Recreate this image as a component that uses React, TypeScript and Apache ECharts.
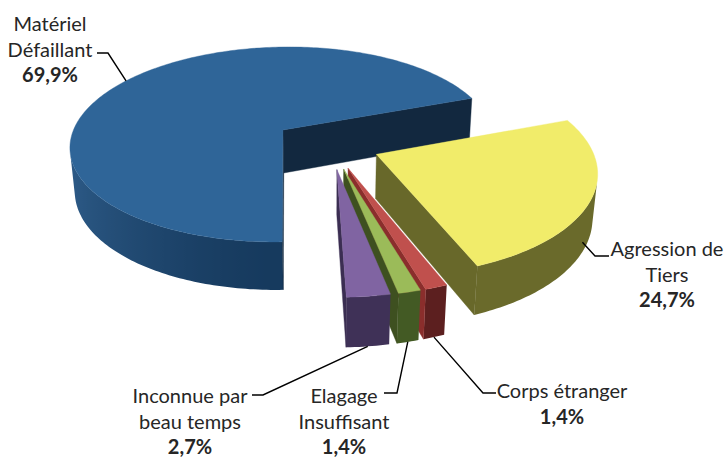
import React, { useEffect, useRef } from "react";
import * as echarts from "echarts";

// Share of incidents by cause (%)
const categories = [
  "Matériel Défaillant",
  "Agression de Tiers",
  "Corps étranger",
  "Elagage Insuffisant",
  "Inconnue par beau temps",
];
const shares = [69.9, 24.7, 1.4, 1.4, 2.7];
const labelLines = [
  ["Matériel", "Défaillant"],
  ["Agression de", "Tiers"],
  ["Corps étranger"],
  ["Elagage", "Insuffisant"],
  ["Inconnue par", "beau temps"],
];

// Styling per slice
const topColors = ["#2F6598", "#F1EC6A", "#C0504D", "#9BBB59", "#8064A2"];
const wallLight = ["#2E5C89", "#74742F", "#6A2523", "#4C6229", "#47385F"];
const wallDark = ["#163A5E", "#6A6A2B", "#5C1F1F", "#435A24", "#3F3157"];
const edgeColors = ["#12283F", "#68682A", "#8A2E2C", "#3E5020", "#3B2E52"];
const explodeBy = [0.275, 0.23, 0.24, 0.24, 0.24];

// Label placement: block centre x, first line centre y, leader elbow and end,
// leader anchor on the slice as [fraction of sweep, fraction of depth]
const labelLayout = [
  { x: 50, y: 23, elbow: [108, 53], end: [97, 53], anchor: [0.5, 0] },
  { x: 667, y: 248, elbow: [595, 256], end: [609, 256], anchor: [0.55, 0.75] },
  { x: 562, y: 390, elbow: [483, 393], end: [496, 393], anchor: [0.5, 1] },
  { x: 344, y: 395, elbow: [397, 393], end: [384, 393], anchor: [0.5, 1] },
  { x: 190, y: 395, elbow: [263, 395], end: [252, 395], anchor: [0.5, 1] },
];
const LINE_H = 25.5;
const FONT = "Lato";
const FONT_SIZE = 20;

// Perspective view of the tilted disc (lengths in pie radii)
const VIEW = {
  cx: 330.7,
  cy: 144.9,
  scale: 214.3,
  tiltDeg: 27.76,
  dist: 5.815,
  depth: 0.235,
  startDeg: 178.2,
};

const RAD = Math.PI / 180;
const sinT = Math.sin(VIEW.tiltDeg * RAD);
const cosT = Math.cos(VIEW.tiltDeg * RAD);
const camera = [0, VIEW.dist * cosT, VIEW.dist * sinT];

function project(X: number, Y: number, Z: number): number[] {
  const den = 1 - (cosT / VIEW.dist) * Y - (sinT / VIEW.dist) * Z;
  return [
    VIEW.cx + (VIEW.scale * X) / den,
    VIEW.cy + (VIEW.scale * (sinT * Y - cosT * Z)) / den,
  ];
}

function facesCamera(n: number[], p: number[]): boolean {
  return (
    n[0] * (camera[0] - p[0]) + n[1] * (camera[1] - p[1]) + n[2] * (camera[2] - p[2]) > 0
  );
}

function hexToRgb(h: string): number[] {
  const v = parseInt(h.slice(1), 16);
  return [(v >> 16) & 255, (v >> 8) & 255, v & 255];
}
function mix(a: string, b: string, t: number): string {
  const c1 = hexToRgb(a);
  const c2 = hexToRgb(b);
  const c = c1.map((x, k) => Math.round(x + (c2[k] - x) * t));
  return `rgb(${c[0]},${c[1]},${c[2]})`;
}

const total = shares.reduce((s, v) => s + v, 0);
const startShares: number[] = [];
shares.reduce((acc, v) => {
  startShares.push(acc);
  return acc + v;
}, 0);

// Paint far slices first
const midAngles = shares.map(
  (v, i) => (VIEW.startDeg + ((startShares[i] + v / 2) / total) * 360) * RAD
);
const depthOrder = shares
  .map((_, i) => ({ i, y: -explodeBy[i] * Math.cos(midAngles[i]) }))
  .sort((a, b) => a.y - b.y)
  .map((d) => d.i);
const rank: number[] = [];
depthOrder.forEach((idx, r) => (rank[idx] = r));

function formatShare(v: number): string {
  return v.toFixed(1).replace(".", ",") + "%";
}

function renderSlice(params: any, api: any) {
  const i = params.dataIndex;
  const value = api.value(0) as number;
  const a0 = (VIEW.startDeg + (startShares[i] / total) * 360) * RAD;
  const a1 = a0 + (value / total) * 360 * RAD;
  const m = (a0 + a1) / 2;
  const ox = explodeBy[i] * Math.sin(m);
  const oy = -explodeBy[i] * Math.cos(m);
  const H = VIEW.depth;
  const P3 = (t: number, r: number, z: number) => [
    ox + r * Math.sin(t),
    oy - r * Math.cos(t),
    z,
  ];
  const pr = (p: number[]) => project(p[0], p[1], p[2]);
  const base = rank[i] * 1000;
  const children: any[] = [];
  const n = Math.max(4, Math.ceil((a1 - a0) / RAD));

  // Curved outer wall: merge the camera-facing segments into runs
  const runs: number[][] = [];
  let run: number[] | null = null;
  for (let s = 0; s < n; s++) {
    const tm = a0 + ((a1 - a0) * (s + 0.5)) / n;
    const vis = facesCamera([Math.sin(tm), -Math.cos(tm), 0], P3(tm, 1, -H / 2));
    if (vis) {
      if (!run) {
        run = [s, s];
        runs.push(run);
      } else run[1] = s;
    } else run = null;
  }
  runs.forEach(([s0, s1]) => {
    const top: number[][] = [];
    const bottom: number[][] = [];
    const samples: { x: number; c: string }[] = [];
    for (let s = s0; s <= s1 + 1; s++) {
      const t = a0 + ((a1 - a0) * s) / n;
      const pt = pr(P3(t, 1, 0));
      top.push(pt);
      bottom.push(pr(P3(t, 1, -H)));
      const shade = Math.pow(Math.max(0, -Math.sin(t)), 1.5);
      samples.push({ x: pt[0], c: mix(wallDark[i], wallLight[i], shade) });
    }
    samples.sort((p, q) => p.x - q.x);
    const xmin = samples[0].x;
    const xmax = samples[samples.length - 1].x;
    const span = Math.max(1e-6, xmax - xmin);
    const stops = samples.map((p) => ({ offset: (p.x - xmin) / span, color: p.c }));
    const fill = new echarts.graphic.LinearGradient(xmin, 0, xmax, 0, stops, true);
    children.push({
      type: "polygon",
      z2: base + 1,
      shape: { points: top.concat(bottom.reverse()) },
      style: { fill },
    });
  });

  // Radial walls at both cut edges
  const radial = (t: number, sign: number) => {
    const normal = [sign * Math.cos(t), sign * Math.sin(t), 0];
    if (!facesCamera(normal, P3(t, 0.5, -H / 2))) return;
    children.push({
      type: "polygon",
      z2: base + 2,
      shape: {
        points: [pr(P3(t, 0, 0)), pr(P3(t, 1, 0)), pr(P3(t, 1, -H)), pr(P3(t, 0, -H))],
      },
      style: { fill: edgeColors[i], stroke: edgeColors[i], lineWidth: 0.4 },
    });
  };
  radial(a0, -1);
  radial(a1, 1);

  // Top face
  const topPts = [pr(P3(a0, 0, 0))];
  for (let s = 0; s <= n; s++) topPts.push(pr(P3(a0 + ((a1 - a0) * s) / n, 1, 0)));
  children.push({
    type: "polygon",
    z2: base + 500,
    shape: { points: topPts },
    style: { fill: topColors[i], stroke: topColors[i], lineWidth: 0.4 },
  });

  // Label with leader line
  const lay = labelLayout[i];
  const anchor = pr(P3(a0 + (a1 - a0) * lay.anchor[0], 1, -H * lay.anchor[1]));
  children.push({
    type: "polyline",
    z2: 100000,
    shape: { points: [anchor, lay.elbow, lay.end] },
    style: { stroke: "#000000", lineWidth: 1.4, fill: "none" },
  });
  const lines = [...labelLines[i], formatShare(value)];
  lines.forEach((txt, j) => {
    const bold = j === lines.length - 1;
    children.push({
      type: "text",
      z2: 100001,
      x: lay.x,
      y: lay.y + j * LINE_H,
      style: {
        text: txt,
        fill: "#262626",
        fontSize: FONT_SIZE,
        fontFamily: FONT,
        fontWeight: bold ? "bold" : "normal",
        textAlign: "center",
        textVerticalAlign: "middle",
        align: "center",
        verticalAlign: "middle",
      },
    });
  });

  return { type: "group", children };
}

export default function App() {
  const ref = useRef<HTMLDivElement>(null);
  useEffect(() => {
    if (!ref.current) return;
    const chart = echarts.init(ref.current, undefined, { renderer: "svg" });
    chart.setOption({
      animation: false,
      backgroundColor: "#ffffff",
      series: [
        {
          type: "custom",
          coordinateSystem: "none",
          silent: true,
          renderItem: renderSlice,
          data: shares.map((v, i) => ({ name: categories[i], value: v })),
        },
      ],
    });
    return () => chart.dispose();
  }, []);
  return (
    <div
      ref={ref}
      style={{ position: "fixed", left: 0, top: 0, width: 725, height: 457, background: "#fff" }}
    />
  );
}
